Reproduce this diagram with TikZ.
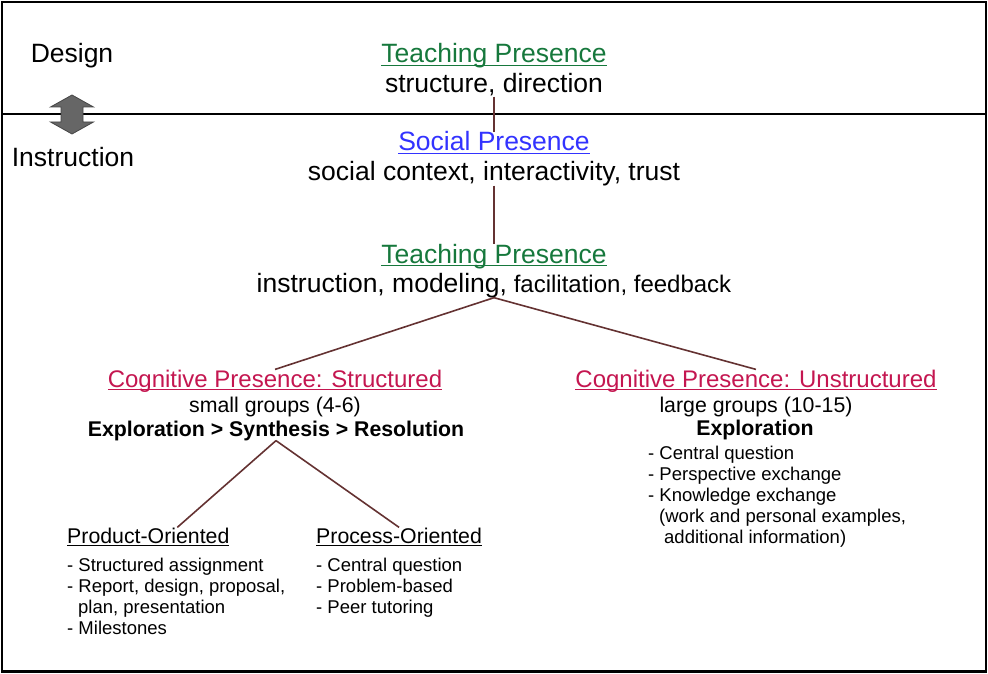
\documentclass[tikz,border=0pt]{standalone}
\usepackage{fontspec}
\setmainfont{Liberation Sans}
\definecolor{tpgreen}{RGB}{22,120,60}
\definecolor{spblue}{RGB}{51,51,255}
\definecolor{cpred}{RGB}{196,22,80}
\definecolor{conncol}{RGB}{100,50,50}
\definecolor{arrowfill}{RGB}{102,102,102}
\definecolor{arrowedge}{RGB}{70,70,70}
\newcommand\myul[1]{\setbox0\hbox{#1}\rlap{\rule[-3.1pt]{\wd0}{1pt}}\box0}
\tikzset{
  big/.style={font=\fontsize{26.5}{30}\selectfont, inner sep=0pt, anchor=base},
  head/.style={font=\fontsize{24}{28}\selectfont, inner sep=0pt, anchor=base, text=cpred},
  mid/.style={font=\fontsize{21.3}{25}\selectfont, inner sep=0pt, anchor=base},
  item/.style={font=\fontsize{18.5}{21}\selectfont, inner sep=0pt, anchor=base west},
  connline/.style={draw=conncol, line width=1.6pt},
  frameline/.style={draw=black, line width=2.5pt},
}
\begin{document}
\begin{tikzpicture}[x=1pt, y=-1pt]
\useasboundingbox (0,0) rectangle (988,674);
% frame
\draw[frameline] (2,2) rectangle (986,671.7);
\draw[draw=black, line width=2pt] (2,114) -- (986,114);
% side labels
\node[big] (design) at (72,63) {Design};
\node[big] (instr) at (73,167) {Instruction};
\draw[fill=arrowfill, draw=arrowedge, line width=0.8pt]
  (72,95) -- (93.5,107) -- (83,107) -- (83,122) -- (93.5,122) -- (72,134)
  -- (50.5,122) -- (61,122) -- (61,107) -- (50.5,107) -- cycle;
% central column
\node[big, text=tpgreen] (tp1) at (494,63) {\myul{Teaching Presence}};
\node[big] (tp1d) at (494,93) {structure, direction};
\node[big, text=spblue] (sp) at (494,151) {\myul{Social Presence}};
\node[big] (spd) at (494,180) {social context, interactivity, trust};
\node[big, text=tpgreen] (tp2) at (494,263) {\myul{Teaching Presence}};
\node[big] (tp2d) at (494,292) {instruction, modeling,{\fontsize{24}{28}\selectfont\ facilitation, feedback}};
% cognitive structured
\node[head] (cs) at (275,387) {\myul{Cognitive Presence: Structured}};
\node[mid] (csg) at (275,412) {small groups (4-6)};
\node[mid] (cse) at (276,436) {\bfseries Exploration > Synthesis > Resolution};
% cognitive unstructured
\node[head] (cu) at (756,387) {\myul{Cognitive Presence: Unstructured}};
\node[mid] (cug) at (756,412) {large groups (10-15)};
\node[mid] (cue) at (755,435) {\bfseries Exploration};
\node[item] (cu1) at (648,459) {- Central question};
\node[item] (cu2) at (648,480) {- Perspective exchange};
\node[item] (cu3) at (648,501) {- Knowledge exchange};
\node[item] (cu4) at (659,522) {(work and personal examples,};
\node[item] (cu5) at (664,543) {additional information)};
% product oriented
\node[mid, anchor=base west] (prod) at (67,543) {\myul{Product-Oriented}};
\node[item] (pr1) at (67,571) {- Structured assignment};
\node[item] (pr2) at (67,592) {- Report, design, proposal,};
\node[item] (pr3) at (78,613) {plan, presentation};
\node[item] (pr4) at (67,634) {- Milestones};
% process oriented
\node[mid, anchor=base west] (proc) at (316,543) {\myul{Process-Oriented}};
\node[item] (pc1) at (316,571) {- Central question};
\node[item] (pc2) at (316,592) {- Problem-based};
\node[item] (pc3) at (316,613) {- Peer tutoring};
% connectors
\draw[connline] (tp1d.south) -- (sp.north);
\draw[connline] (spd.south) -- (tp2.north);
\draw[connline] (tp2d.south) -- (cs.north);
\draw[connline] (tp2d.south) -- (cu.north);
\draw[connline] (cse.south) -- ([xshift=29pt]prod.north);
\draw[connline] (cse.south) -- (proc.north);
\end{tikzpicture}
\end{document}
